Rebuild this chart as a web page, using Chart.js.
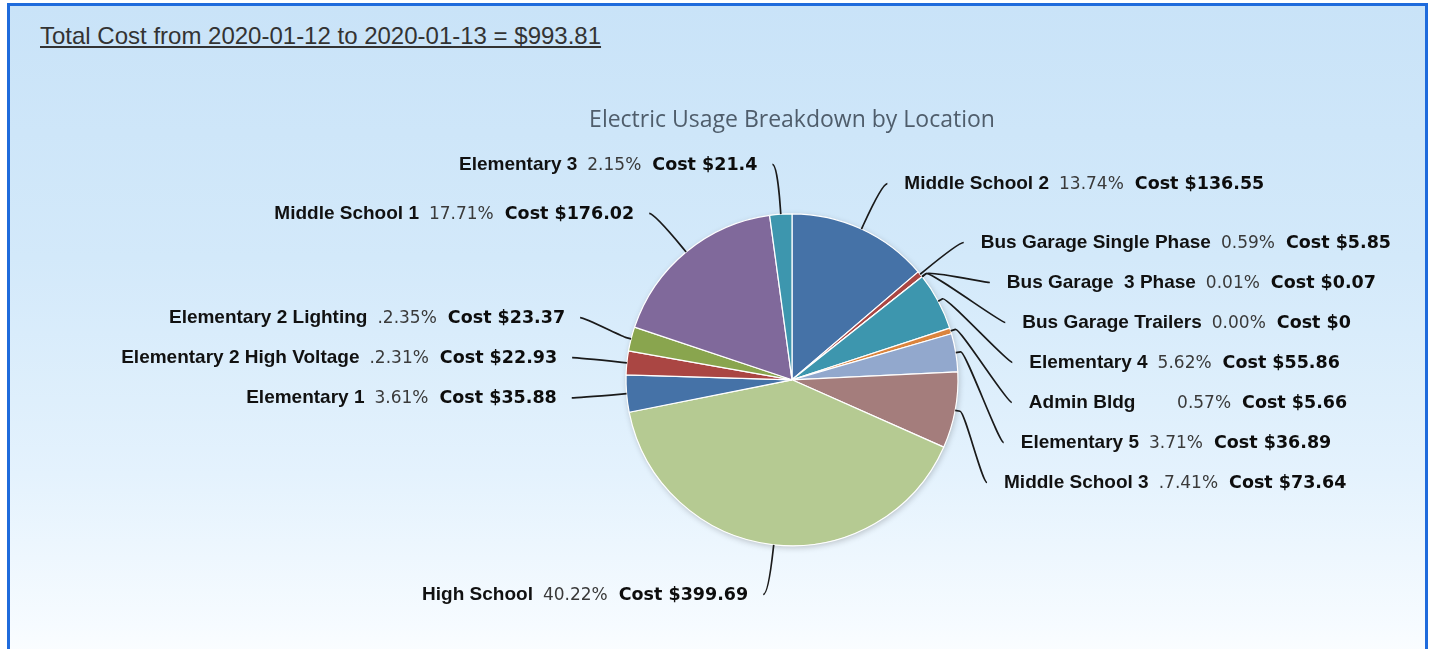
<!DOCTYPE html>
<html>
<head>
<meta charset="utf-8">
<title>Electric Usage Breakdown by Location</title>
<script src="https://cdn.jsdelivr.net/npm/chart.js@4.4.0/dist/chart.umd.min.js"></script>
<style>
  html, body { margin: 0; padding: 0; width: 1432px; height: 649px; overflow: hidden; background: #fff; }
  #panel {
    position: absolute; left: 7px; top: 3px; width: 1415px; height: 720px;
    border: 3px solid #1f6bdc; border-bottom: none;
    background: linear-gradient(to bottom, #c9e3f8 0%, #d3e9fa 35%, #e4f2fd 65%, #f6fbff 86%, #ffffff 94%);
  }
  #total {
    position: absolute; left: 40px; top: 22px;
    font: 24px "Liberation Sans", Arial, sans-serif; color: #333;
    text-decoration: underline; white-space: nowrap;
  }
  #wrap { position: absolute; left: 0; top: 0; width: 1432px; height: 649px; }
</style>
</head>
<body>
<div id="panel"></div>
<div id="total">Total Cost from 2020-01-12 to 2020-01-13 = $993.81</div>
<div id="wrap"><canvas id="myChart" width="1432" height="649"></canvas></div>
<script>
// data, clockwise from 12 o'clock
const locations = ['Middle School 2', 'Bus Garage Single Phase', 'Bus Garage  3 Phase', 'Bus Garage Trailers',
    'Elementary 4', 'Admin Bldg      ', 'Elementary 5', 'Middle School 3', 'High School', 'Elementary 1',
    'Elementary 2 High Voltage', 'Elementary 2 Lighting', 'Middle School 1', 'Elementary 3'];
const costs = [136.55, 5.85, 0.07, 0, 55.86, 5.66, 36.89, 73.64, 399.69, 35.88, 22.93, 23.37, 176.02, 21.4];
const percentLabels = ['13.74%', '0.59%', '0.01%', '0.00%', '5.62%', '0.57%', '3.71%', '.7.41%',
    '40.22%', '3.61%', '.2.31%', '.2.35%', '17.71%', '2.15%'];
const sliceColors = ['#4572A7', '#AA4643', '#89A54E', '#80699B', '#3D96AE', '#DB843D', '#92A8CD',
    '#A47D7C', '#B5CA92', '#4572A7', '#AA4643', '#89A54E', '#80699B', '#3D96AE'];

const nameFont = 'bold 19px "Liberation Sans", Arial, sans-serif';
const pctFont = '17px "DejaVu Sans", Verdana, sans-serif';
const costFont = 'bold 17.5px "DejaVu Sans", Verdana, sans-serif';

// soft shadow under the pie
const pieShadow = {
    id: 'pieShadow',
    beforeDatasetsDraw(chart) {
        const arc = chart.getDatasetMeta(0).data[0];
        const ctx = chart.ctx;
        ctx.save();
        ctx.shadowColor = 'rgba(0,0,0,0.22)';
        ctx.shadowBlur = 6;
        ctx.shadowOffsetX = 1;
        ctx.shadowOffsetY = 2;
        ctx.beginPath();
        ctx.arc(arc.x, arc.y, arc.outerRadius, 0, Math.PI * 2);
        ctx.fillStyle = '#f4f7ee';
        ctx.fill();
        ctx.restore();
    }
};

// outside labels with curved connectors
const pieLabels = {
    id: 'pieLabels',
    afterDatasetsDraw(chart) {
        const ctx = chart.ctx;
        const arcs = chart.getDatasetMeta(0).data;
        const cx = arcs[0].x, cy = arcs[0].y, r = arcs[0].outerRadius;
        const R = r + 50;
        const step = 40;

        const items = arcs.map(function (arc, i) {
            const mid = (arc.startAngle + arc.endAngle) / 2;
            return { i: i, mid: mid, left: Math.cos(mid) < 0, y: cy + R * Math.sin(mid) };
        });

        const right = items.filter(d => !d.left).sort((a, b) => (a.y - b.y) || (a.i - b.i));
        for (let k = 1; k < right.length; k++) {
            right[k].y = Math.max(right[k].y, right[k - 1].y + step);
        }
        const left = items.filter(d => d.left).sort((a, b) => (b.y - a.y) || (b.i - a.i));
        for (let k = 1; k < left.length; k++) {
            left[k].y = Math.min(left[k].y, left[k - 1].y - step);
        }

        ctx.save();
        items.forEach(function (d) {
            const dy = d.y - cy;
            const dx = Math.sqrt(Math.max(R * R - dy * dy, 0));
            const x = d.left ? cx - dx : cx + dx;
            const ex = cx + Math.cos(d.mid) * r, ey = cy + Math.sin(d.mid) * r;
            const bx = cx + Math.cos(d.mid) * (r + 5), by = cy + Math.sin(d.mid) * (r + 5);

            ctx.beginPath();
            ctx.moveTo(x + (d.left ? -5 : 5), d.y);
            ctx.bezierCurveTo(x, d.y, 2 * bx - ex, 2 * by - ey, bx, by);
            ctx.lineTo(ex, ey);
            ctx.strokeStyle = '#1a1a1a';
            ctx.lineWidth = 1.7;
            ctx.stroke();

            const name = locations[d.i];
            const pct = percentLabels[d.i];
            const cost = 'Cost $' + costs[d.i];
            ctx.font = nameFont; const w1 = ctx.measureText(name).width;
            ctx.font = pctFont; const w2 = ctx.measureText(pct).width;
            ctx.font = costFont; const w3 = ctx.measureText(cost).width;
            const gap1 = 10, gap2 = 11;
            const total = w1 + gap1 + w2 + gap2 + w3;
            let tx = d.left ? x - 20 - total : x + 22;

            ctx.textBaseline = 'middle';
            ctx.textAlign = 'left';
            ctx.fillStyle = '#111';
            ctx.font = nameFont;
            ctx.fillText(name, tx, d.y);
            tx += w1 + gap1;
            ctx.fillStyle = '#3a3a3a';
            ctx.font = pctFont;
            ctx.fillText(pct, tx, d.y + 1);
            tx += w2 + gap2;
            ctx.fillStyle = '#0d0d0d';
            ctx.font = costFont;
            ctx.fillText(cost, tx, d.y + 1);
        });
        ctx.restore();
    }
};

const ctx = document.getElementById('myChart').getContext('2d');
const myChart = new Chart(ctx, {
    type: 'pie',
    data: {
        labels: locations,
        datasets: [{
            data: costs,
            backgroundColor: sliceColors,
            borderColor: '#ffffff',
            borderWidth: 1.2,
            radius: 166
        }]
    },
    options: {
        responsive: false,
        animation: false,
        events: [],
        layout: { padding: { left: 400, right: 248, top: 0, bottom: 103 } },
        plugins: {
            legend: { display: false },
            tooltip: { enabled: false },
            title: {
                display: true,
                text: 'Electric Usage Breakdown by Location',
                color: '#4f5d6b',
                font: { family: '"Open Sans", sans-serif', size: 23, weight: 'normal' },
                padding: { top: 107, bottom: 79 }
            }
        }
    },
    plugins: [pieShadow, pieLabels]
});
</script>
</body>
</html>
